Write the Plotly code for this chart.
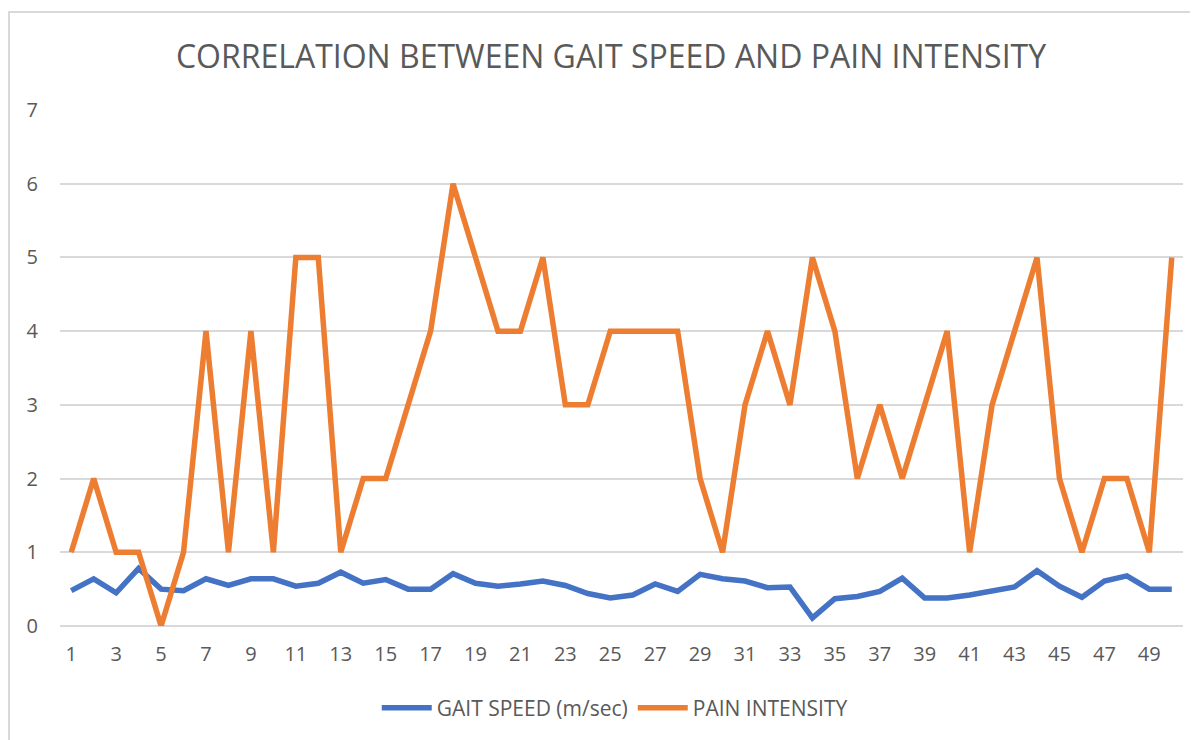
import plotly.graph_objects as go

subjects = list(range(1, 51))
gait_speed = [0.48, 0.64, 0.45, 0.78, 0.50, 0.48, 0.64, 0.55, 0.64, 0.64,
              0.54, 0.58, 0.73, 0.58, 0.63, 0.50, 0.50, 0.71, 0.58, 0.54,
              0.57, 0.61, 0.55, 0.44, 0.38, 0.42, 0.57, 0.47, 0.70, 0.64,
              0.61, 0.52, 0.53, 0.11, 0.37, 0.40, 0.47, 0.65, 0.38, 0.38,
              0.42, 0.47, 0.53, 0.75, 0.54, 0.39, 0.61, 0.68, 0.50, 0.50]
pain_intensity = [1, 2, 1, 1, 0, 1, 4, 1, 4, 1,
                  5, 5, 1, 2, 2, 3, 4, 6, 5, 4,
                  4, 5, 3, 3, 4, 4, 4, 4, 2, 1,
                  3, 4, 3, 5, 4, 2, 3, 2, 3, 4,
                  1, 3, 4, 5, 2, 1, 2, 2, 1, 5]
x_ticks = list(range(1, 51, 2))
title_text = "CORRELATION BETWEEN GAIT SPEED AND PAIN INTENSITY"

FONT = "Open Sans"
GRAY = "#595959"

fig = go.Figure()
fig.add_trace(go.Scatter(x=subjects, y=gait_speed, mode="lines",
                         name="GAIT SPEED (m/sec)",
                         line=dict(color="#4472C4", width=5.5, shape="linear")))
fig.add_trace(go.Scatter(x=subjects, y=pain_intensity, mode="lines",
                         name="PAIN INTENSITY",
                         line=dict(color="#ED7D31", width=5.5, shape="linear")))

W, H = 1190, 732
fig.update_layout(
    width=W, height=H,
    margin=dict(l=52, r=15, t=102, b=114),
    paper_bgcolor="white", plot_bgcolor="white",
    title=dict(text=title_text, x=603 / W, xanchor="center",
               y=1 - 49 / H, yanchor="middle", yref="container",
               font=dict(family=FONT, size=32, color=GRAY)),
    legend=dict(orientation="h", x=0.494, xanchor="center",
                y=-0.159, yanchor="middle",
                font=dict(family=FONT, size=21, color=GRAY),
                itemwidth=50),
    xaxis=dict(range=[0.5, 50.5], tickmode="array", tickvals=x_ticks,
               ticktext=[str(v) for v in x_ticks], showgrid=False,
               zeroline=False, showline=False, ticks="",
               tickfont=dict(family=FONT, size=20, color=GRAY)),
    yaxis=dict(range=[0, 7], dtick=1, showgrid=True, gridcolor="#d9d9d9",
               gridwidth=2, zeroline=True, zerolinecolor="#d9d9d9",
               zerolinewidth=2, showline=False, ticks="", ticklen=0,
               tickfont=dict(family=FONT, size=20, color=GRAY)),
    showlegend=True,
)
fig.update_yaxes(ticklabelstandoff=21)
fig.update_xaxes(ticklabelstandoff=14)

# chart-area border (extends past the right and bottom edges, as in the reference)
fig.add_shape(type="rect", xref="paper", yref="paper",
              x0=(9 - 60) / 1123, x1=1.2, y0=-0.4, y1=(626 - 12) / 516,
              line=dict(color="#d9d9d9", width=2), fillcolor="rgba(0,0,0,0)",
              layer="below")

fig.write_html("out.html")
